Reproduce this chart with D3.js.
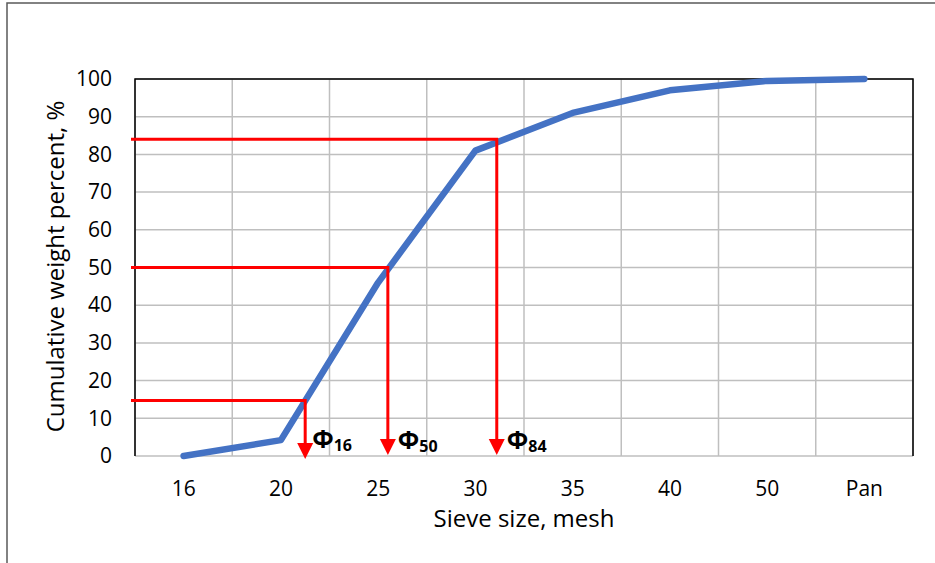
<!DOCTYPE html>
<html>
<head>
<meta charset="utf-8">
<script src="https://cdn.jsdelivr.net/npm/d3@7"></script>
<style>
body{margin:0;background:#fff;}
svg{display:block;font-family:"Open Sans",sans-serif;}
</style>
</head>
<body>
<svg id="chart" width="935" height="563"></svg>
<script>
// sieve data
var sieves = ["16","20","25","30","35","40","50","Pan"];
var cumPct = [0, 4.2, 46, 81, 91, 97, 99.5, 100];
var yTicks = [0,10,20,30,40,50,60,70,80,90,100];
// phi readings: percent level and position along sieve axis (category index)
var phiNames = ["16","50","84"];
var phiPct = [14.7, 50, 84];
var phiPos = [1.25, 2.1, 3.22];

window.addEventListener("load", makeChart);

function makeChart(){
	var svg = d3.select("#chart");
	var L = 135, R = 913, T = 79, B = 456;

	// outer frame
	svg.append("rect").attr("x",7).attr("y",3).attr("width",960).attr("height",600)
	.attr("fill","none").attr("stroke","#595959").attr("stroke-width",1.5);

	var xB = d3.scaleBand().domain(sieves).range([L,R]).padding(0);
	var xI = d3.scaleLinear().domain([-0.5, sieves.length-0.5]).range([L,R]);
	var y = d3.scaleLinear().domain([0,100]).range([B,T]);

	var g = svg.append("g");

	// grid
	g.selectAll("line.hg").data(yTicks).enter().append("line")
	.attr("x1",L).attr("x2",R).attr("y1",d=>y(d)).attr("y2",d=>y(d))
	.attr("stroke","#bfbfbf").attr("stroke-width",1.5);
	var edges = sieves.map(d=>xB(d)).concat([R]);
	g.selectAll("line.vg").data(edges).enter().append("line")
	.attr("x1",d=>d).attr("x2",d=>d).attr("y1",T).attr("y2",B)
	.attr("stroke","#bfbfbf").attr("stroke-width",1.5);

	// plot border (top, left, right)
	g.append("path").attr("d","M"+L+","+B+"V"+T+"H"+R+"V"+B)
	.attr("fill","none").attr("stroke","#000").attr("stroke-width",1.5);

	// axes labels
	var yAx = d3.axisLeft(y).tickValues(yTicks).tickSize(0).tickPadding(23);
	svg.append("g").attr("transform","translate("+L+",0)").call(yAx)
	.call(s=>s.select(".domain").remove())
	.selectAll("text").attr("font-size",21).attr("font-family","Open Sans").attr("fill","#000");

	var xAx = d3.axisBottom(xB).tickSize(0).tickPadding(25);
	svg.append("g").attr("transform","translate(0,"+B+")").call(xAx)
	.call(s=>s.select(".domain").remove())
	.selectAll("text").attr("font-size",21).attr("font-family","Open Sans").attr("fill","#000");

	svg.append("text").attr("x",(L+R)/2).attr("y",527).attr("text-anchor","middle")
	.attr("font-size",24).text("Sieve size, mesh");
	svg.append("text").attr("transform","translate(64,"+((T+B)/2-1)+") rotate(-90)")
	.attr("text-anchor","middle").attr("font-size",24).text("Cumulative weight percent, %");

	// data line
	var line = d3.line().x((d,i)=>xB(sieves[i])+xB.bandwidth()/2).y(d=>y(d));
	g.append("path").attr("d",line(cumPct)).attr("fill","none")
	.attr("stroke","#4472C4").attr("stroke-width",6.5)
	.attr("stroke-linejoin","round").attr("stroke-linecap","round");

	// phi guides
	var ah = 16, aw = 8;
	phiNames.forEach(function(nm,i){
		var px = xI(phiPos[i]), py = y(phiPct[i]);
		var tip = i==0 ? B+3 : B-1;
		g.append("path").attr("d","M"+(L-4)+","+py+"H"+px+"V"+(tip-ah+2))
		.attr("fill","none").attr("stroke","red").attr("stroke-width",3);
		g.append("path").attr("d","M"+(px-aw)+","+(tip-ah)+"L"+(px+aw)+","+(tip-ah)+"L"+px+","+tip+"Z")
		.attr("fill","red");
		var t = g.append("text").attr("x",px+(i==0?7:10)).attr("y",i==0?448:449)
		.attr("font-weight","bold").attr("font-size",25);
		t.append("tspan").text("\u03A6");
		t.append("tspan").attr("font-size",16).attr("dy",3).text(nm);
	});
}
</script>
</body>
</html>
